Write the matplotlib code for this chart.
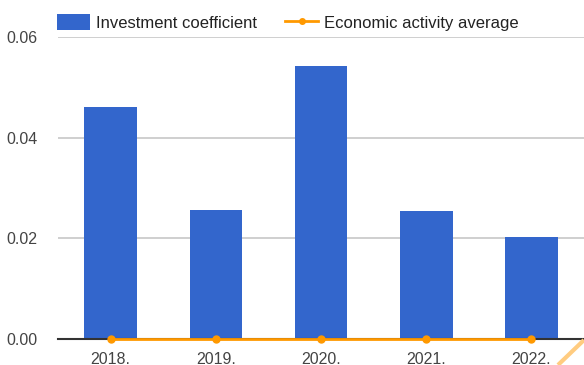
import numpy as np
import matplotlib
matplotlib.use("Agg")
import matplotlib.pyplot as plt
from matplotlib.lines import Line2D
from matplotlib.patches import Patch

plt.rcParams['font.family'] = ['Liberation Sans', 'DejaVu Sans']

years = ['2018.', '2019.', '2020.', '2021.', '2022.']
investment_coef = [0.0461, 0.0256, 0.0542, 0.0254, 0.0203]
activity_avg = [0.0, 0.0, 0.0, 0.0, 0.0]
yticks = [0.0, 0.02, 0.04, 0.06]

bar_color = '#3366CC'
line_color = '#FF9900'
text_color = '#444444'

fig = plt.figure(figsize=(5.84, 3.65), dpi=100)
ax = fig.add_axes([58 / 584, 26 / 365, 1 - 58 / 584, 302 / 365])

x = np.arange(len(years))
ax.bar(x, investment_coef, width=0.5, color=bar_color, zorder=2)
ax.plot(x, activity_avg, color=line_color, lw=2, marker='o', ms=5,
        zorder=4, clip_on=False)

ax.set_xlim(-0.5, 4.5)
ax.set_ylim(0, 0.06)
ax.set_yticks(yticks)
ax.set_yticklabels(['%.2f' % t for t in yticks])
ax.set_xticks(x)
ax.set_xticklabels(years)
ax.tick_params(axis='both', length=0, labelsize=11.5, colors=text_color)
ax.tick_params(axis='y', pad=15)
ax.tick_params(axis='x', pad=9)

ax.grid(axis='y', color='#CCCCCC', lw=1.3, zorder=0)
for s in ['top', 'right', 'left']:
    ax.spines[s].set_visible(False)
ax.spines['bottom'].set_color('#333333')
ax.spines['bottom'].set_linewidth(1.5)
ax.spines['bottom'].set_zorder(3)

handles = [Patch(facecolor=bar_color, edgecolor='none'),
           Line2D([], [], color=line_color, lw=2, marker='o', ms=4)]
fig.legend(handles, ['Investment coefficient', 'Economic activity average'],
           loc='upper left', bbox_to_anchor=(44 / 584, 0.995), ncol=2,
           frameon=False, fontsize=12, labelcolor='#222222',
           handlelength=2.0, handleheight=1.05, handletextpad=0.36,
           columnspacing=1.7, borderaxespad=0.35)

# diagonal marker in the lower right corner
fig.add_artist(Line2D([558 / 584, 1.0], [0.0, 25 / 365], transform=fig.transFigure,
                      color='#FFCC80', lw=3, solid_capstyle='butt'))

fig.savefig('out.png', dpi=100)
